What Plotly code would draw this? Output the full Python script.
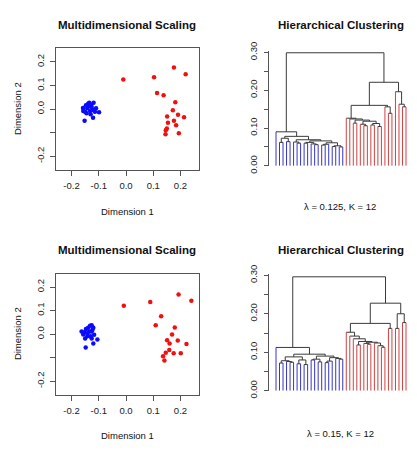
import plotly.graph_objects as go

# ---------------- data ----------------
# MDS coordinates, run with lambda = 0.125
mds_a_blue_x = [-0.158, -0.150, -0.139, -0.135, -0.119, -0.126, -0.142, -0.132, -0.114, -0.099,
                -0.121, -0.152, -0.145, -0.130, -0.137, -0.122, -0.157, -0.110, -0.147, -0.128]
mds_a_blue_y = [0.005, -0.011, 0.023, 0.027, 0.027, 0.009, 0.003, -0.008, -0.011, -0.013,
                -0.037, -0.049, -0.018, -0.022, 0.013, -0.004, -0.008, 0.003, 0.016, 0.019]
mds_a_red_x = [-0.010, 0.103, 0.176, 0.219, 0.114, 0.138, 0.181, 0.172, 0.191, 0.213,
               0.151, 0.176, 0.154, 0.184, 0.150, 0.146, 0.145, 0.194]
mds_a_red_y = [0.125, 0.135, 0.176, 0.148, 0.068, 0.059, 0.029, -0.005, -0.024, -0.035,
               -0.031, -0.049, -0.058, -0.069, -0.082, -0.090, -0.107, -0.103]

# MDS coordinates, run with lambda = 0.15
mds_b_blue_x = [-0.163, -0.153, -0.139, -0.132, -0.126, -0.123, -0.117, -0.105, -0.120, -0.148,
                -0.150, -0.142, -0.130, -0.126, -0.135, -0.147, -0.157, -0.142, -0.126, -0.120]
mds_b_blue_y = [0.011, 0.008, 0.027, 0.035, 0.038, 0.018, -0.003, -0.023, -0.040, -0.057,
                -0.019, -0.009, -0.009, -0.019, 0.011, 0.022, -0.002, 0.004, 0.011, 0.027]
mds_b_red_x = [-0.008, 0.089, 0.193, 0.240, 0.129, 0.109, 0.179, 0.169, 0.151, 0.190,
               0.222, 0.160, 0.159, 0.146, 0.175, 0.201, 0.136, 0.141]
mds_b_red_y = [0.121, 0.136, 0.168, 0.142, 0.076, 0.038, 0.028, -0.002, -0.026, -0.027,
               -0.042, -0.040, -0.067, -0.079, -0.081, -0.081, -0.094, -0.112]

# Dendrograms: internal node = [merge height, left, right]; leaf = cluster label
tree_a_blue = [0.090, "B",
               [0.078,
                [0.073, [0.062, "B", "B"], [0.064, "B", "B"]],
                [0.069,
                 [0.063, "B", [0.060, "B", "B"]],
                 [0.066,
                  [0.062, [0.060, "B", "B"], [0.058, "B", [0.056, "B", "B"]]],
                  [0.061, [0.057, [0.055, "B", "B"], "B"], [0.053, [0.051, "B", "B"], [0.050, "B", "B"]]]]]]]
tree_a_red = [0.221,
              [0.160,
               [0.126, "R", [0.124, "R", [0.121, [0.113, "R", "R"],
                                          [0.118, [0.110, "R", [0.106, "R", "R"]],
                                           [0.112, [0.108, "R", "R"], [0.104, "R", "R"]]]]]],
               [0.156, "R", [0.139, "R", "R"]]],
              [0.196, "R", [0.163, "R", [0.156, "R", "R"]]]]
tree_a = [0.299, tree_a_blue, tree_a_red]

tree_b_blue = [0.1125, "B",
               [0.095,
                [0.088, [0.078, [0.072, "B", "B"], [0.076, "B", [0.074, "B", "B"]]],
                 [0.080, [0.070, "B", "B"], [0.068, "B", "B"]]],
                [0.090, [0.082, [0.080, "B", "B"], [0.075, "B", "B"]],
                 [0.086, [0.077, [0.073, "B", "B"], "B"], [0.084, "B", [0.082, "B", "B"]]]]]]
tree_b_red = [0.2275,
              [0.175,
               [0.152, "R", [0.142, "R", [0.135, "R",
                                          [0.128, [0.119, "R", "R"],
                                           [0.126, [0.123, "R", [0.121, "R", "R"]],
                                            [0.124, "R", [0.117, "R", [0.113, "R", "R"]]]]]]]],
               [0.162, "R", "R"]],
              [0.200, [0.162, "R", "R"], [0.177, "R", "R"]]]
tree_b = [0.296, tree_b_blue, tree_b_red]

titles = ["Multidimensional Scaling", "Hierarchical Clustering"]
captions = ["λ = 0.125, K = 12", "λ = 0.15, K = 12"]
mds_ticks = [-0.2, -0.1, 0.0, 0.1, 0.2]
mds_xtext = ["-0.2", "-0.1", "0.0", "0.1", "0.2"]
mds_ytext = ["-0.2", "", "0.0", "0.1", "0.2"]
dend_ticks = [0.0, 0.05, 0.10, 0.15, 0.20, 0.25, 0.30]
dend_text = ["0.00", "", "0.10", "", "0.20", "", "0.30"]

# ---------------- styling / layout helpers ----------------
W, H = 417, 451
FONT = "Liberation Sans, Arial, Helvetica, sans-serif"
PT_BLUE, PT_RED = "#0a0aff", "#f01010"
LF_BLUE, LF_RED, GREY = "#3535d0", "#d04040", "#3a3a3a"
AXC = "#555555"


def px_x(a, b):
    return [a / W, b / W]


def px_y(top, bottom):
    return [1 - bottom / H, 1 - top / H]


def layout_tree(node, counter, segs):
    if isinstance(node, str):
        counter[0] += 1
        return counter[0], 0.0, node
    h, left, right = node
    xl, hl, cl = layout_tree(left, counter, segs)
    xr, hr, cr = layout_tree(right, counter, segs)
    for x, hc, c in ((xl, hl, cl), (xr, hr, cr)):
        col = {"B": LF_BLUE, "R": LF_RED}.get(c, GREY)
        segs.setdefault(col, []).append(((x, x), (hc, h)))
    segs.setdefault(GREY, []).append(((xl, xr), (h, h)))
    return (xl + xr) / 2, h, None


fig = go.Figure()

panels = [
    dict(blue=(mds_a_blue_x, mds_a_blue_y), red=(mds_a_red_x, mds_a_red_y), tree=tree_a,
         top=41, bottom=167, dtop_zero=163, dscale=393, title_y=17, lab_y=210, cap_y=205),
    dict(blue=(mds_b_blue_x, mds_b_blue_y), red=(mds_b_red_x, mds_b_red_y), tree=tree_b,
         top=275, bottom=400.7, dtop_zero=396.7, dscale=400, title_y=250.5, lab_y=443, cap_y=441),
]

annotations = []
for i, p in enumerate(panels):
    sx = "x" if i == 0 else "x3"
    sy = "y" if i == 0 else "y3"
    dx = "x2" if i == 0 else "x4"
    dy = "y2" if i == 0 else "y4"
    # scatter
    for (xs, ys), col in ((p["blue"], PT_BLUE), (p["red"], PT_RED)):
        fig.add_trace(go.Scatter(x=xs, y=ys, mode="markers", xaxis=sx, yaxis=sy,
                                 marker=dict(color=col, size=4.5, line=dict(width=0)),
                                 showlegend=False, hoverinfo="skip"))
    # dendrogram
    segs = {}
    n_leaves = [0]
    layout_tree(p["tree"], n_leaves, segs)
    for col, lst in segs.items():
        xx, yy = [], []
        for (x0, x1), (y0, y1) in lst:
            xx += [x0, x1, None]
            yy += [y0, y1, None]
        fig.add_trace(go.Scatter(x=xx, y=yy, mode="lines", xaxis=dx, yaxis=dy,
                                 line=dict(color=col, width=1), showlegend=False,
                                 hoverinfo="skip"))
    n = n_leaves[0]
    step = (406 - 276) / (n - 1)
    dom_dx = px_x(276 - step / 2, 406 + step / 2)
    ymax = 0.303
    dom_dy = px_y(p["dtop_zero"] - ymax * p["dscale"], p["dtop_zero"])

    sfx = "" if i == 0 else "3"
    dfx = "2" if i == 0 else "4"
    common_s = dict(showline=True, mirror=True, linecolor=AXC, linewidth=1, ticks="outside",
                    ticklen=5, tickcolor=AXC, tickwidth=1, showgrid=False, zeroline=False,
                    tickfont=dict(family=FONT, size=9.5, color="#222"), tickvals=mds_ticks)
    fig.update_layout(**{
        "xaxis" + sfx: dict(domain=px_x(56, 199), range=[-0.257, 0.268], anchor=sy,
                            ticktext=mds_xtext, ticklabelstandoff=2, **common_s),
        "yaxis" + sfx: dict(domain=px_y(p["top"], p["bottom"]), range=[-0.257, 0.257],
                            anchor=sx, ticktext=mds_ytext, tickangle=-90,
                            ticklabelstandoff=2, **common_s),
        "xaxis" + dfx: dict(domain=dom_dx, range=[0.5, n + 0.5], visible=False, anchor=dy),
        "yaxis" + dfx: dict(domain=dom_dy, range=[0, ymax], anchor="free",
                            position=268 / W, showline=True, linecolor=AXC, linewidth=1,
                            ticks="outside", ticklen=4, tickcolor=AXC, showgrid=False,
                            zeroline=False, tickvals=dend_ticks, ticktext=dend_text,
                            tickangle=-90, ticklabelstandoff=3,
                            tickfont=dict(family=FONT, size=9.5, color="#222")),
    })
    # texts
    annotations += [
        dict(text="<b>%s</b>" % titles[0], x=127 / W, y=1 - p["title_y"] / H),
        dict(text="<b>%s</b>" % titles[1], x=341 / W, y=1 - p["title_y"] / H),
        dict(text="Dimension 1", x=127 / W, y=1 - p["lab_y"] / H, size=9.5),
        dict(text="Dimension 2", x=17 / W, y=1 - (p["top"] + p["bottom"]) / 2 / H,
             size=9.5, textangle=-90),
        dict(text=captions[i], x=340 / W, y=1 - p["cap_y"] / H, size=9.5),
    ]

ann_objs = []
for a in annotations:
    size = a.pop("size", 11.5)
    ann_objs.append(dict(xref="paper", yref="paper", xanchor="center", yanchor="middle",
                         showarrow=False, font=dict(family=FONT, size=size, color="#111"), **a))

fig.update_layout(width=W, height=H, margin=dict(l=0, r=0, t=0, b=0),
                  paper_bgcolor="white", plot_bgcolor="white",
                  annotations=ann_objs, showlegend=False)

fig.write_html("out.html")
